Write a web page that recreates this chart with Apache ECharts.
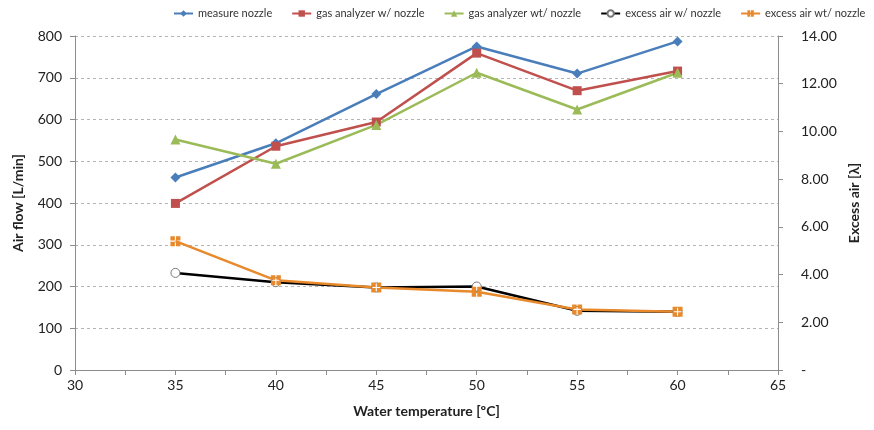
<!DOCTYPE html>
<html>
<head>
<meta charset="utf-8">
<script src="https://cdn.jsdelivr.net/npm/echarts@6/dist/echarts.min.js"></script>
<style>
  html, body { margin: 0; padding: 0; background: #fff; }
  #main { width: 874px; height: 430px; }
</style>
</head>
<body>
<div id="main"></div>
<script>
// water temperature [ºC]
var temps = [35, 40, 45, 50, 55, 60];
// air flow [L/min], left axis
var measureNozzle = [461, 543, 661, 775, 710, 787];
var gasW = [399, 536, 594, 759, 669, 716];
var gasWt = [552, 494, 587, 712, 624, 712];
// excess air [λ], right axis
var excessW = [4.07, 3.68, 3.46, 3.50, 2.48, 2.44];
var excessWt = [5.40, 3.76, 3.46, 3.28, 2.54, 2.44];

var font = 'Lato, "Liberation Sans", sans-serif';
var axisGray = '#8c8c8c';
// square split by a plus, like the Excel marker
var plusSquare = 'path://M0,0H4V4H0Z M5,0H9V4H5Z M0,5H4V9H0Z M5,5H9V9H5Z';

function pairs(ys) {
    return temps.map(function (t, i) { return [t, ys[i]]; });
}

function line(name, data, color, symbol, size, yIndex, extra) {
    var s = {
        name: name,
        type: 'line',
        yAxisIndex: yIndex,
        data: pairs(data),
        symbol: symbol,
        symbolSize: size,
        lineStyle: { color: color, width: 2.5 },
        itemStyle: { color: color },
        animation: false
    };
    if (extra) {
        for (var k in extra) s[k] = extra[k];
    }
    return s;
}

var chart = echarts.init(document.getElementById('main'));
chart.setOption({
    textStyle: { fontFamily: font },
    legend: {
        top: 3,
        left: 168,
        right: 0,
        itemWidth: 19,
        itemHeight: 8,
        itemGap: 19,
        textStyle: { fontSize: 11, color: '#333', fontFamily: font }
    },
    grid: { left: 75, right: 96, top: 36, bottom: 60 },
    xAxis: {
        type: 'value',
        min: 30,
        max: 65,
        interval: 5,
        name: 'Water temperature [ºC]',
        nameLocation: 'middle',
        nameGap: 34,
        nameTextStyle: { fontSize: 14, fontWeight: 'bold', color: '#222' },
        axisLine: { lineStyle: { color: axisGray } },
        axisTick: { show: true, length: 5, lineStyle: { color: axisGray } },
        minorTick: { show: true, splitNumber: 2, length: 5, lineStyle: { color: axisGray } },
        splitLine: { show: false },
        axisLabel: { fontSize: 14, color: '#222', margin: 8 }
    },
    yAxis: [{
        type: 'value',
        min: 0,
        max: 800,
        interval: 100,
        name: 'Air flow [L/min]',
        nameLocation: 'middle',
        nameGap: 50,
        nameRotate: 90,
        nameTextStyle: { fontSize: 14, fontWeight: 'bold', color: '#222' },
        axisLine: { show: true, lineStyle: { color: axisGray } },
        axisTick: { show: true, length: 5, lineStyle: { color: axisGray } },
        splitLine: { lineStyle: { color: '#b5b5b5', type: [3, 3] } },
        axisLabel: { fontSize: 14, color: '#222', margin: 13 }
    }, {
        type: 'value',
        min: 0,
        max: 14,
        interval: 2,
        position: 'right',
        name: 'Excess air [λ]',
        nameLocation: 'middle',
        nameGap: 58,
        nameRotate: 90,
        nameTextStyle: { fontSize: 14, fontWeight: 'bold', color: '#222' },
        axisLine: { show: true, lineStyle: { color: axisGray } },
        axisTick: { show: true, length: 5, lineStyle: { color: axisGray } },
        splitLine: { show: false },
        axisLabel: {
            fontSize: 14, color: '#222', margin: 23,
            formatter: function (v) { return v === 0 ? '-' : v.toFixed(2); }
        }
    }],
    series: [
        line('measure nozzle', measureNozzle, '#4a7ebb', 'diamond', 10, 0),
        line('gas analyzer w/ nozzle', gasW, '#c0504d', 'rect', 9, 0),
        line('gas analyzer wt/ nozzle', gasWt, '#9bbb59', 'triangle', 10, 0),
        line('excess air w/ nozzle', excessW, '#000000', 'circle', 9, 1, {
            itemStyle: { color: '#ffffff', borderColor: '#777777', borderWidth: 1 }
        }),
        line('excess air wt/ nozzle', excessWt, '#e8892b', plusSquare, 10, 1)
    ]
});
</script>
</body>
</html>
